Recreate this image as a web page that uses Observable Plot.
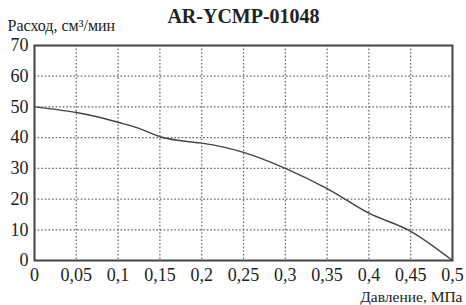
<!DOCTYPE html>
<html><head><meta charset="utf-8">
<script src="https://cdn.jsdelivr.net/npm/d3@7"></script>
<script src="https://cdn.jsdelivr.net/npm/@observablehq/plot@0.6"></script>
<style>body{margin:0;background:#fff}</style>
</head><body><div id="chart"></div>
<script>
const title = "AR-YCMP-01048";
const yLabel = "Расход, см³/мин";
const xLabel = "Давление, МПа";
const pressure = [0, 0.025, 0.05, 0.075, 0.1, 0.125, 0.15, 0.175, 0.2, 0.25, 0.3, 0.35, 0.4, 0.45, 0.5];
const flow =     [50, 49.2, 48.2, 46.8, 45, 43, 40.3, 39, 38.2, 35.2, 30, 23.4, 15.4, 9.5, 0];
const xTicks = [0, 0.05, 0.1, 0.15, 0.2, 0.25, 0.3, 0.35, 0.4, 0.45, 0.5];
const yTicks = [0, 10, 20, 30, 40, 50, 60, 70];

const data = pressure.map((p, i) => ({p, q: flow[i]}));
const fmt = v => String(v).replace(".", ",");
const FF = "Liberation Serif";

const chart = Plot.plot({
  width: 466, height: 305,
  marginLeft: 34, marginRight: 14, marginTop: 45, marginBottom: 45,
  style: {fontFamily: FF, fontSize: "18px", color: "#222", background: "#fff"},
  x: {domain: [0, 0.5], label: null},
  y: {domain: [0, 70], label: null},
  marks: [
    Plot.ruleX(xTicks, {x: d => d, stroke: "#666", strokeWidth: 1.2, strokeDasharray: "1.6,2"}),
    Plot.ruleY(yTicks, {y: d => d, stroke: "#666", strokeWidth: 1.2, strokeDasharray: "1.6,2"}),
    Plot.axisX({ticks: xTicks, tickFormat: fmt, tickSize: 0, tickPadding: 8, label: null}),
    Plot.axisY({ticks: yTicks, tickSize: 0, tickPadding: 6, label: null}),
    Plot.line(data, {x: "p", y: "q", stroke: "#444", strokeWidth: 1.4, curve: "monotone-x"}),
    Plot.frame({stroke: "#444", strokeWidth: 2}),
    Plot.text([title], {frameAnchor: "top", lineAnchor: "middle", dy: -29, text: d => d, fontWeight: "bold", fontSize: 20, fill: "#222"}),
    Plot.text([yLabel], {frameAnchor: "top-left", lineAnchor: "middle", dx: -27, dy: -20, textAnchor: "start", text: d => d, fontSize: 16, fill: "#222"}),
    Plot.text([xLabel], {frameAnchor: "bottom-right", lineAnchor: "middle", dx: 10, dy: 37, textAnchor: "end", text: d => d, fontSize: 15.5, fill: "#222"})
  ]
});
d3.select(chart).selectAll("text").style("font-family", "'Liberation Serif', serif");
document.getElementById("chart").appendChild(chart);
</script>
</body></html>
